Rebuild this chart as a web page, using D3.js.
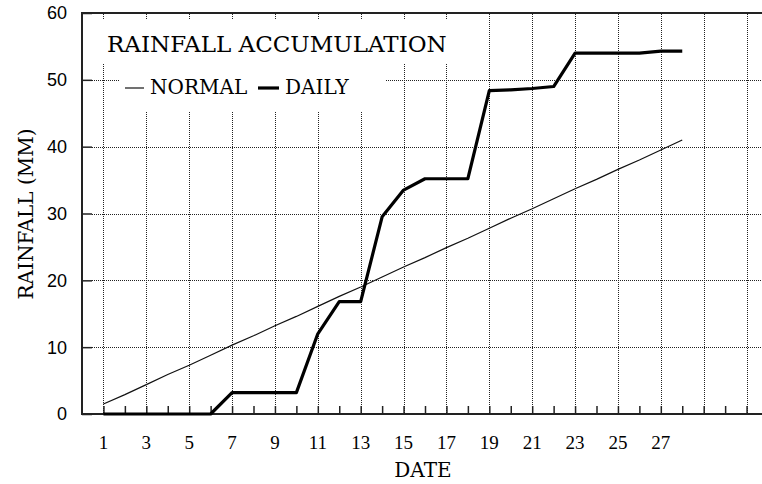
<!DOCTYPE html>
<html><head><meta charset="utf-8">
<script src="https://cdn.jsdelivr.net/npm/d3@7"></script>
<style>body{margin:0;background:#fff}svg{display:block}</style>
</head><body>
<svg id="c" width="762" height="484"></svg>
<script>
const days = d3.range(1, 29);
const normal = [1.5, 2.9, 4.4, 5.9, 7.3, 8.8, 10.3, 11.7, 13.2, 14.6, 16.1, 17.6, 19.0, 20.5,
  22.0, 23.4, 24.9, 26.3, 27.8, 29.3, 30.7, 32.2, 33.7, 35.1, 36.6, 38.0, 39.5, 41.0];
const daily = [0, 0, 0, 0, 0, 0, 3.2, 3.2, 3.2, 3.2, 12.0, 16.8, 16.8, 29.5,
  33.5, 35.2, 35.2, 35.2, 48.4, 48.5, 48.7, 49.0, 54.0, 54.0, 54.0, 54.0, 54.3, 54.3];
const yTicks = [0, 10, 20, 30, 40, 50, 60];
const xLabelTicks = [1, 3, 5, 7, 9, 11, 13, 15, 17, 19, 21, 23, 25, 27];
const gridDays = d3.range(1, 33, 2);
const minorDays = d3.range(1, 33);
const title = "RAINFALL ACCUMULATION";
const xTitle = "DATE";
const yTitle = "RAINFALL (MM)";
const legendItems = ["NORMAL", "DAILY"];

const svg = d3.select("#c");
const x = d3.scaleLinear().domain([0, 32]).range([82, 768]);
const y = d3.scaleLinear().domain([0, 60]).range([414, 13]);
const serif = "'DejaVu Serif', serif";

// grid
const g = svg.append("g");
g.selectAll(".vg").data(gridDays).join("line")
  .attr("x1", d => Math.round(x(d)) + 0.5).attr("x2", d => Math.round(x(d)) + 0.5)
  .attr("y1", 14).attr("y2", 413)
  .attr("stroke", "#222").attr("stroke-dasharray", "1,1").attr("shape-rendering", "crispEdges");
g.selectAll(".hg").data(yTicks.filter(d => d > 0 && d < 60)).join("line")
  .attr("x1", 92).attr("x2", 762)
  .attr("y1", d => Math.round(y(d)) + 0.5).attr("y2", d => Math.round(y(d)) + 0.5)
  .attr("stroke", "#222").attr("stroke-dasharray", "1,1").attr("shape-rendering", "crispEdges");

// title & legend backgrounds
svg.append("rect").attr("x", 96).attr("y", 20).attr("width", 368).attr("height", 43).attr("fill", "#fff");
svg.append("rect").attr("x", 120).attr("y", 63).attr("width", 265).attr("height", 49).attr("fill", "#fff");

// axes via d3 axis
const yAxis = svg.append("g").attr("transform", "translate(82,0)")
  .call(d3.axisRight(y).tickValues(yTicks).tickSize(10).tickFormat(""));
yAxis.select(".domain").remove();
yAxis.selectAll("line").attr("stroke", "#222").attr("stroke-width", 1.5);

const xAxis = svg.append("g").attr("transform", "translate(0,414)")
  .call(d3.axisTop(x).tickValues(minorDays).tickSize(8).tickFormat(""));
xAxis.select(".domain").remove();
xAxis.selectAll("line").attr("stroke", "#222").attr("stroke-width", 1.5);

// frame lines
svg.append("line").attr("x1", 82).attr("x2", 762).attr("y1", 414).attr("y2", 414).attr("stroke", "#222").attr("stroke-width", 2);
svg.append("line").attr("x1", 82).attr("x2", 82).attr("y1", 12).attr("y2", 415).attr("stroke", "#222").attr("stroke-width", 2);
svg.append("line").attr("x1", 81).attr("x2", 762).attr("y1", 13).attr("y2", 13).attr("stroke", "#222").attr("stroke-width", 2);

// y tick labels
svg.selectAll(".yl").data(yTicks).join("text")
  .attr("x", 67).attr("y", d => y(d)).attr("dy", "0.36em").attr("text-anchor", "end")
  .attr("font-family", "'Liberation Sans', Arial, sans-serif").attr("font-size", 18)
  .text(d => d);
// x tick labels
svg.selectAll(".xl").data(xLabelTicks).join("text")
  .attr("x", d => x(d)).attr("y", 449).attr("text-anchor", "middle")
  .attr("font-family", "'Liberation Serif', serif").attr("font-size", 19)
  .text(d => d);

// axis titles
svg.append("text").attr("x", 423).attr("y", 477).attr("text-anchor", "middle")
  .attr("font-family", serif).attr("font-size", 20).text(xTitle);
svg.append("text").attr("transform", "translate(33,214) rotate(-90)").attr("text-anchor", "middle")
  .attr("font-family", serif).attr("font-size", 20).text(yTitle);

// series
const line = d3.line().x((d, i) => x(days[i])).y(d => y(d));
svg.append("path").datum(normal).attr("d", line).attr("fill", "none").attr("stroke", "#111").attr("stroke-width", 1.2);
svg.append("path").datum(daily).attr("d", line).attr("fill", "none").attr("stroke", "#000").attr("stroke-width", 3.2).attr("stroke-linejoin", "round");

// title
svg.append("text").attr("x", 107).attr("y", 52).attr("font-family", serif).attr("font-size", 23).text(title);
// legend
svg.append("line").attr("x1", 125).attr("x2", 144).attr("y1", 88).attr("y2", 88).attr("stroke", "#111").attr("stroke-width", 1.2);
svg.append("text").attr("x", 150).attr("y", 94).attr("font-family", serif).attr("font-size", 20).text(legendItems[0]);
svg.append("line").attr("x1", 258).attr("x2", 279).attr("y1", 88).attr("y2", 88).attr("stroke", "#000").attr("stroke-width", 3.2);
svg.append("text").attr("x", 285).attr("y", 94).attr("font-family", serif).attr("font-size", 20).text(legendItems[1]);
</script>
</body></html>
